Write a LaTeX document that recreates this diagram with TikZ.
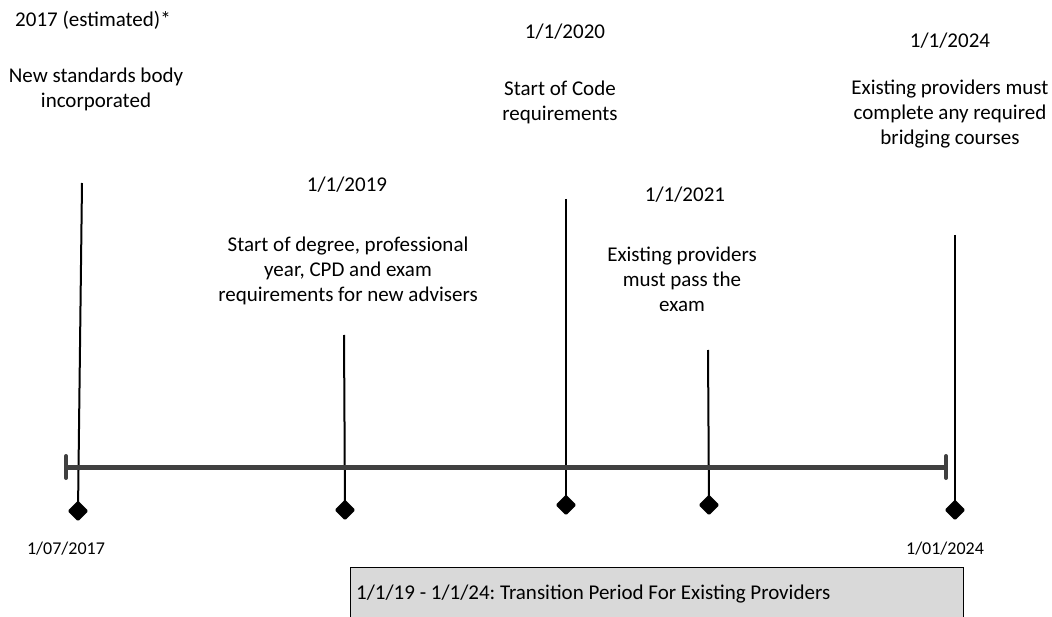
\documentclass[tikz,border=0pt]{standalone}
\usepackage{fontspec}
\setmainfont{Carlito}
\usetikzlibrary{shapes.geometric}
\definecolor{bargray}{HTML}{404040}
\definecolor{boxgray}{HTML}{D9D9D9}
\frenchspacing
\begin{document}
\begin{tikzpicture}[x=1pt,y=-1pt,
    lbl/.style={align=center,inner sep=0pt,anchor=base,font=\fontsize{21}{25}\selectfont},
    endlbl/.style={inner sep=0pt,anchor=base,font=\fontsize{18}{22}\selectfont},
    diam/.style={diamond,fill=black,inner sep=0pt,minimum width=21pt,minimum height=21pt,rounded corners=1.5pt},
    stem/.style={line width=2pt,black},
    bar/.style={line width=5pt,bargray},
    barend/.style={line width=4pt,bargray,line cap=round}]
  \path[use as bounding box,clip] (0,0) rectangle (1052,617);
  % tops of the stems
  \coordinate (t1) at (82,183);
  \coordinate (t2) at (344,335);
  \coordinate (t3) at (566,199);
  \coordinate (t4) at (708,350);
  \coordinate (t5) at (955,235);
  % diamonds under the bar
  \node[diam] (d1) at (78,511) {};
  \node[diam] (d2) at (345,510) {};
  \node[diam] (d3) at (566,505) {};
  \node[diam] (d4) at (709,505) {};
  \node[diam] (d5) at (955,510) {};
  \foreach \i in {1,...,5}
    \draw[stem] (t\i) -- (d\i.center);
  % timeline bar
  \coordinate (barL) at (66,467);
  \coordinate (barR) at (946,467);
  \draw[bar] (barL) -- (barR);
  \draw[barend] ([yshift=-11pt]barL) -- ([yshift=11pt]barL);
  \draw[barend] ([yshift=-11pt]barR) -- ([yshift=11pt]barR);
  % labels (base = last line)
  \node[lbl] (date1) at (93,27) {2017 (estimated)*};
  \node[lbl] (text1) at (96,108) {New standards body\\incorporated};
  \node[lbl] (date2) at (347,192) {1/1/2019};
  \node[lbl] (text2) at (348,302) {Start of degree, professional\\year, CPD and exam\\requirements for new advisers};
  \node[lbl] (date3) at (565,39) {1/1/2020};
  \node[lbl] (text3) at (560,121) {Start of Code\\requirements};
  \node[lbl] (date4) at (685,202) {1/1/2021};
  \node[lbl] (text4) at (682,312) {Existing providers\\must pass the\\exam};
  \node[lbl] (date5) at (950,48) {1/1/2024};
  \node[lbl] (text5) at (950,145) {Existing providers must\\complete any required\\bridging courses};
  \node[endlbl] (start) at (66,554) {1/07/2017};
  \node[endlbl] (end) at (945,554) {1/01/2024};
  % transition period
  \draw[fill=boxgray,line width=0.8pt] (350,567) rectangle (963,630);
  \node[lbl,anchor=base west] (trans) at (356,599) {1/1/19 - 1/1/24: Transition Period For Existing Providers};
\end{tikzpicture}
\end{document}
